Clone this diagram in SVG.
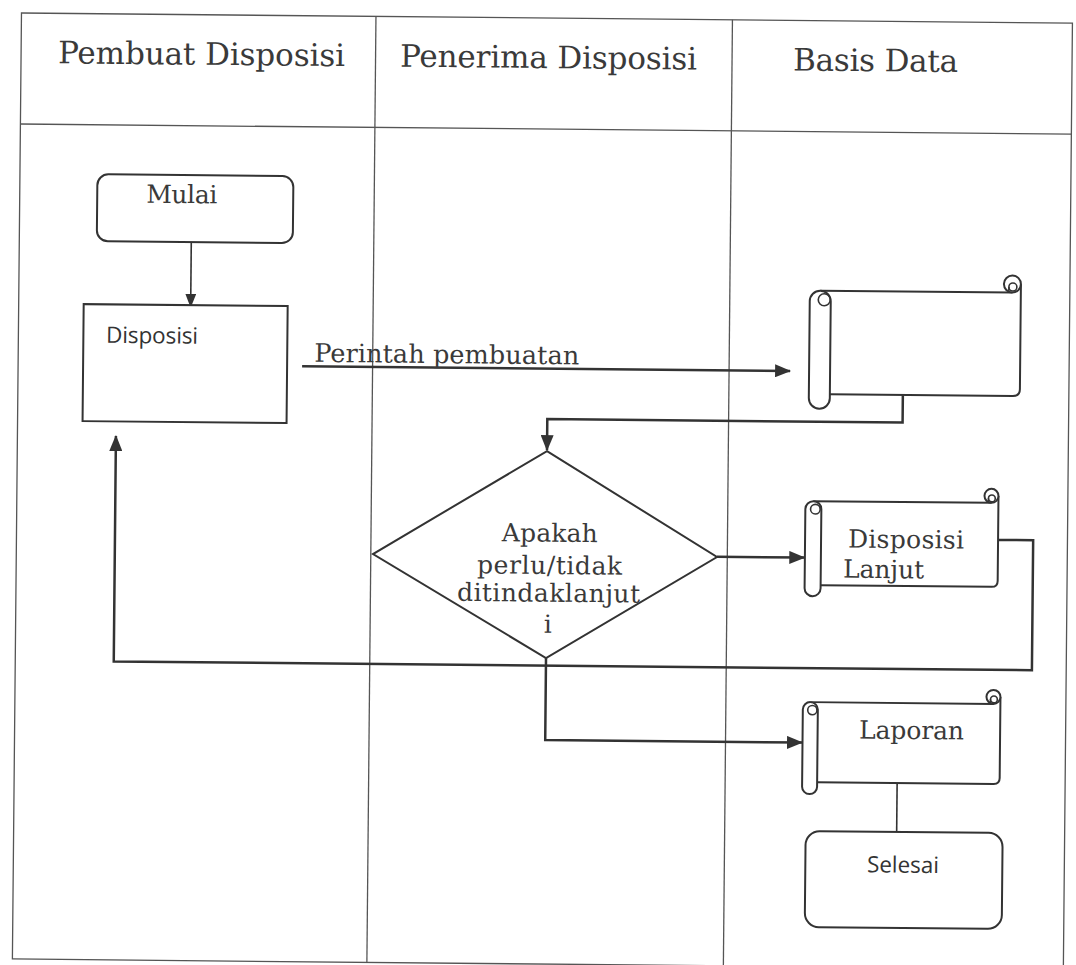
<svg xmlns="http://www.w3.org/2000/svg" width="1076" height="965" viewBox="0 0 1076 965">
  <style>
    .grid { fill: none; stroke: #555; stroke-width: 1.3; }
    .node { fill: #fff; stroke: #333; stroke-width: 2; }
    .thin { fill: none; stroke: #333; stroke-width: 1.6; }
    .conn { fill: none; stroke: #333; stroke-width: 2.5; }
    .link { fill: none; stroke: #333; stroke-width: 1.6; }
    .sf { font-family: "DejaVu Serif", "Liberation Serif", serif; fill: #3a3a3a; }
    .ss { font-family: "Open Sans", "Liberation Sans", sans-serif; fill: #333; }
    .hd { font-size: 31px; }
    .lb { font-size: 25px; }
  </style>
  <defs>
    <marker id="arr" viewBox="0 0 16 13" refX="15" refY="6.5" markerWidth="16" markerHeight="13" markerUnits="userSpaceOnUse" orient="auto">
      <path d="M0,0 L16,6.5 L0,13 z" fill="#333"/>
    </marker>
    <marker id="arrs" viewBox="0 0 14 11" refX="13" refY="5.5" markerWidth="14" markerHeight="11" markerUnits="userSpaceOnUse" orient="auto">
      <path d="M0,0 L14,5.5 L0,11 z" fill="#333"/>
    </marker>
  </defs>
  <rect x="0" y="0" width="1076" height="965" fill="#fff"/>
  <g transform="rotate(0.55 538 482)">
    <g id="lanes">
      <rect class="grid" x="17" y="18" width="1051" height="946"/>
      <line class="grid" x1="17" y1="129" x2="1068" y2="129"/>
      <line class="grid" x1="371.5" y1="18" x2="371.5" y2="964"/>
      <line class="grid" x1="728" y1="18" x2="728" y2="964"/>
      <text class="sf hd" x="54" y="68" textLength="287">Pembuat Disposisi</text>
      <text class="sf hd" x="396" y="68" textLength="297">Penerima Disposisi</text>
      <text class="sf hd" x="789" y="68" textLength="165">Basis Data</text>
    </g>

    <g id="connectors">
      <path class="link" d="M189,245.5 V310" marker-end="url(#arrs)"/>
      <path class="conn" d="M301,368.5 H789" marker-end="url(#arr)"/>
      <text class="sf" font-size="25.5" x="313" y="364" textLength="265">Perintah pembuatan</text>
      <path class="conn" d="M902,391.5 V419 H546.7 V450" marker-end="url(#arr)"/>
      <path class="conn" d="M717.7,555 H805" marker-end="url(#arr)"/>
      <path class="conn" d="M998.6,535.5 H1033.7 V665.5 H115.5 V440" marker-end="url(#arr)"/>
      <path class="conn" d="M547.7,658 V740 H804.5" marker-end="url(#arr)"/>
      <path class="link" d="M900,779.5 V828.5"/>
    </g>

    <g id="mulai">
      <rect class="node" x="94.5" y="178.5" width="196" height="67" rx="11"/>
      <text class="sf lb" x="143.5" y="206.5" textLength="71">Mulai</text>
    </g>

    <g id="disposisi">
      <rect class="node" x="82" y="308.5" width="204" height="117"/>
      <text class="ss" font-size="22.5" x="104.7" y="347" textLength="92">Disposisi</text>
    </g>

    <g id="scroll-data">
      <path class="node" d="M818.5,288 H1010.5 M1019,279.5 V384.5 Q1019,391.5 1012,391.5 H829"/>
      <rect class="node" x="808" y="288" width="21" height="118" rx="10.5"/>
      <circle class="thin" cx="822.5" cy="297" r="6"/>
      <circle class="node" cx="1010.5" cy="279.5" r="8.5"/>
      <circle class="thin" cx="1011" cy="282.5" r="4"/>
      <path class="thin" d="M1007,282.5 V288"/>
    </g>

    <g id="keputusan">
      <polygon class="node" points="546.7,451 717.7,555.3 547.7,658 373.7,555.6"/>
      <text class="sf lb" x="502.3" y="541.6" textLength="96">Apakah</text>
      <text class="sf lb" x="477.9" y="573.9" textLength="145">perlu/tidak</text>
      <text class="sf lb" x="458.1" y="601.6" textLength="183">ditindaklanjut</text>
      <text class="sf lb" x="549.1" y="632.6" text-anchor="middle">i</text>
    </g>

    <g id="disposisi-lanjut">
      <path class="node" d="M813.6,498.5 H991.6 M998.6,491.5 V576.5 Q998.6,582.5 992.6,582.5 H821.6"/>
      <rect class="node" x="805.6" y="498.5" width="16" height="95" rx="8"/>
      <circle class="thin" cx="815.6" cy="506.5" r="4.8"/>
      <circle class="node" cx="991.6" cy="491.5" r="7"/>
      <circle class="thin" cx="992" cy="494" r="3.4"/>
      <path class="thin" d="M988.6,494 V498.5"/>
      <text class="sf lb" x="848.6" y="544.5" textLength="116">Disposisi</text>
      <text class="sf lb" x="843.9" y="574.7" textLength="81">Lanjut</text>
    </g>

    <g id="laporan">
      <path class="node" d="M812.5,699.5 H995.5 M1002.5,692.5 V773.5 Q1002.5,779.5 996.5,779.5 H820"/>
      <rect class="node" x="805" y="699.5" width="15" height="92" rx="7.5"/>
      <circle class="thin" cx="814.5" cy="707.5" r="4.6"/>
      <circle class="node" cx="995.5" cy="692.5" r="7"/>
      <circle class="thin" cx="996" cy="695" r="3.4"/>
      <path class="thin" d="M992.5,695 V699.5"/>
      <text class="sf lb" x="861.4" y="735.4" textLength="105">Laporan</text>
    </g>

    <g id="selesai">
      <rect class="node" x="809" y="828.5" width="197" height="96" rx="14"/>
      <text class="ss" font-size="22.5" x="870.7" y="869.2" textLength="72">Selesai</text>
    </g>
  </g>
</svg>
